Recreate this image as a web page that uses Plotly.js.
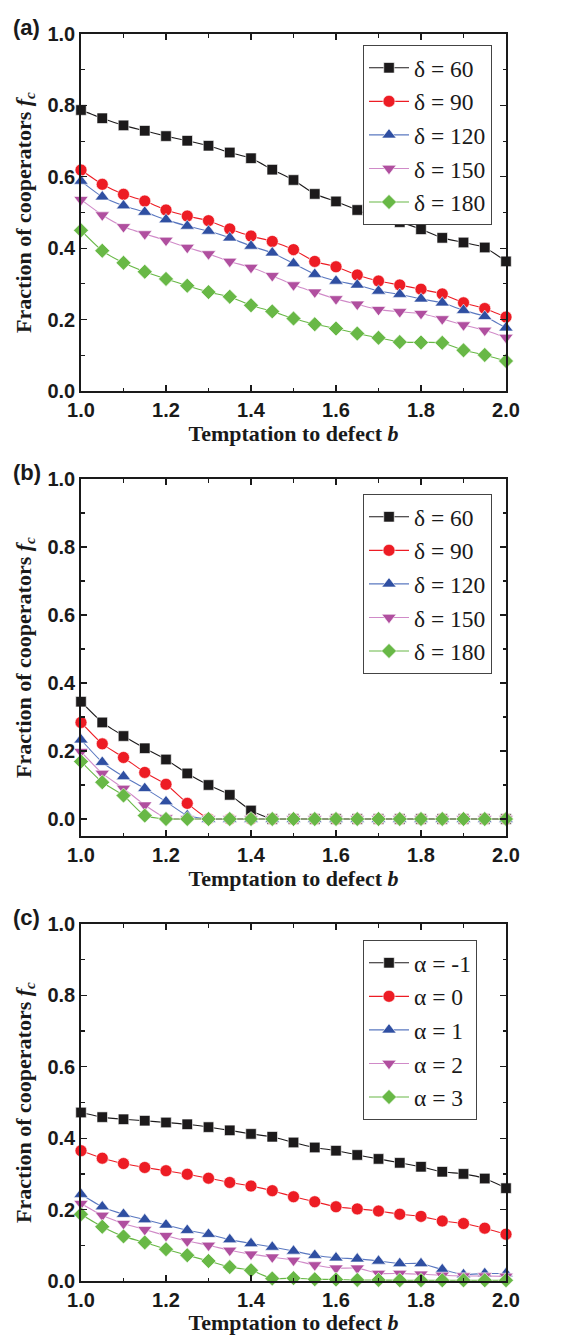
<!DOCTYPE html>
<html>
<head>
<meta charset="utf-8">
<script src="https://cdn.plot.ly/plotly-3.0.1.min.js"></script>
<style>html,body{margin:0;padding:0;background:#fff;}#chart{width:577px;height:1335px;}</style>
</head>
<body>
<div id="chart"></div>
<script>
// Temptation to defect b
const bValues = [1.0,1.05,1.1,1.15,1.2,1.25,1.3,1.35,1.4,1.45,1.5,1.55,1.6,1.65,1.7,1.75,1.8,1.85,1.9,1.95,2.0];

// Panel (a)
const a_d60  = [0.787,0.764,0.744,0.729,0.714,0.701,0.687,0.668,0.652,0.620,0.591,0.552,0.531,0.507,0.483,0.473,0.453,0.429,0.416,0.402,0.363];
const a_d90  = [0.619,0.579,0.551,0.532,0.507,0.490,0.477,0.454,0.434,0.419,0.396,0.363,0.348,0.325,0.308,0.297,0.285,0.272,0.247,0.231,0.207];
const a_d120 = [0.588,0.544,0.519,0.501,0.480,0.462,0.448,0.429,0.406,0.387,0.357,0.327,0.308,0.297,0.280,0.271,0.258,0.247,0.226,0.209,0.177];
const a_d150 = [0.536,0.493,0.460,0.440,0.422,0.402,0.384,0.363,0.346,0.323,0.297,0.277,0.258,0.243,0.228,0.222,0.217,0.202,0.185,0.170,0.150];
const a_d180 = [0.450,0.393,0.359,0.334,0.314,0.295,0.277,0.264,0.240,0.223,0.203,0.187,0.175,0.161,0.149,0.137,0.136,0.135,0.114,0.101,0.084];

// Panel (b)
const b_d60  = [0.345,0.284,0.244,0.208,0.175,0.134,0.100,0.071,0.025,0,0,0,0,0,0,0,0,0,0,0,0];
const b_d90  = [0.284,0.221,0.181,0.137,0.102,0.046,0.001,0,0,0,0,0,0,0,0,0,0,0,0,0,0];
const b_d120 = [0.233,0.167,0.125,0.090,0.051,0.010,0,0,0,0,0,0,0,0,0,0,0,0,0,0,0];
const b_d150 = [0.198,0.134,0.090,0.041,0.003,0,0,0,0,0,0,0,0,0,0,0,0,0,0,0,0];
const b_d180 = [0.169,0.108,0.069,0.010,0,0,0,0,0,0,0,0,0,0,0,0,0,0,0,0,0];

// Panel (c)
const c_am1 = [0.472,0.459,0.453,0.449,0.444,0.439,0.431,0.422,0.412,0.404,0.388,0.374,0.365,0.353,0.342,0.331,0.320,0.306,0.300,0.287,0.260];
const c_a0  = [0.365,0.344,0.329,0.318,0.309,0.299,0.288,0.276,0.266,0.253,0.236,0.222,0.208,0.202,0.196,0.187,0.181,0.168,0.161,0.148,0.131];
const c_a1  = [0.243,0.208,0.187,0.172,0.157,0.142,0.131,0.116,0.105,0.095,0.084,0.072,0.065,0.062,0.056,0.049,0.049,0.032,0.018,0.021,0.021];
const c_a2  = [0.217,0.184,0.161,0.144,0.127,0.112,0.100,0.086,0.075,0.067,0.058,0.045,0.036,0.036,0.021,0.021,0.019,0.016,0.014,0.014,0.013];
const c_a3  = [0.187,0.152,0.125,0.108,0.089,0.072,0.056,0.039,0.030,0.007,0.008,0.005,0.004,0.003,0.003,0.002,0.002,0.002,0.002,0.002,0.002];

const deltaLabels = ['δ = 60','δ = 90','δ = 120','δ = 150','δ = 180'];
const alphaLabels = ['α = -1','α = 0','α = 1','α = 2','α = 3'];
const panelLabels = ['(a)','(b)','(c)'];

const markerColors = ['#1c1a1b','#ed1c24','#2f4fa2','#b04f9f','#68b846'];
const lineColors   = ['#1c1a1b','#ed1c24','#5a78c0','#d08ac8','#68b846'];
const symbols = ['square','circle','triangle-up','triangle-down','diamond'];
const sizes = [10.5,12,12.5,12.5,11.5];

const panels = [
  {series:[a_d60,a_d90,a_d120,a_d150,a_d180], labels:deltaLabels},
  {series:[b_d60,b_d90,b_d120,b_d150,b_d180], labels:deltaLabels},
  {series:[c_am1,c_a0,c_a1,c_a2,c_a3], labels:alphaLabels}
];

const W = 577, H = 1335;
const plotTops = [34, 479, 924];
const plotBots = [391, 836, 1281];
const yRanges = [[0,1],[-0.05,1],[0,1]];
const legendTops = [45, 494, 940];
const xDomain = [81/W, 506/W];

const traces = [];
const layout = {
  width: W, height: H,
  margin: {l:0, r:0, t:0, b:0},
  paper_bgcolor: '#fff', plot_bgcolor: '#fff',
  showlegend: true,
  annotations: []
};

const tickFont = {family:'Liberation Sans Narrow, Liberation Sans, Arial, sans-serif', size:20, color:'#1a1a1a', weight:'bold'};
const titleFont = {family:'Liberation Serif, Times New Roman, serif', size:22, color:'#1a1a1a', weight:'bold'};
const legendFont = {family:'Liberation Serif, Times New Roman, serif', size:23.5, color:'#1a1a1a'};

panels.forEach((p, pi) => {
  const sfx = pi === 0 ? '' : String(pi+1);
  const legName = pi === 0 ? 'legend' : 'legend' + (pi+1);
  p.series.forEach((ys, si) => {
    traces.push({
      x: bValues, y: ys,
      xaxis: 'x' + sfx, yaxis: 'y' + sfx,
      type: 'scatter', mode: 'lines+markers',
      name: p.labels[si],
      legend: legName,
      legendgroup: 'p' + pi + 's' + si,
      line: {color: lineColors[si], width: 1.1, shape: 'spline', smoothing: 0.5},
      marker: {symbol: symbols[si], size: sizes[si], color: markerColors[si], line: {color:'#ffffff', width:0.6}},
      cliponaxis: false
    });
  });
  const yTop = 1 - plotTops[pi]/H, yBot = 1 - plotBots[pi]/H;
  layout['xaxis' + sfx] = {
    domain: xDomain, anchor: 'y' + sfx, range: [1, 2],
    tick0: 1, dtick: 0.2, tickformat: '.1f',
    ticks: 'inside', ticklen: 6, tickwidth: 1.3, tickcolor: '#1a1a1a',
    minor: {dtick: 0.1, ticks: 'inside', ticklen: 3.5, tickwidth: 1.2, tickcolor:'#1a1a1a'},
    showline: true, linecolor: '#1a1a1a', linewidth: 1.8, mirror: 'allticks',
    showgrid: false, zeroline: false,
    tickfont: tickFont,
    title: {text: 'Temptation to defect <i>b</i>', font: titleFont, standoff: 4}
  };
  layout['yaxis' + sfx] = {
    domain: [yBot, yTop], anchor: 'x' + sfx, range: yRanges[pi],
    tick0: 0, dtick: 0.2, tickformat: '.1f',
    ticks: 'inside', ticklen: 6, tickwidth: 1.3, tickcolor: '#1a1a1a',
    minor: {dtick: 0.1, ticks: 'inside', ticklen: 3.5, tickwidth: 1.2, tickcolor:'#1a1a1a'},
    showline: true, linecolor: '#1a1a1a', linewidth: 1.8, mirror: 'allticks',
    showgrid: false, zeroline: false,
    tickfont: tickFont,
    title: {text: 'Fraction of cooperators <i>f<sub>c</sub></i>', font: titleFont, standoff: 10}
  };
  layout[legName] = {
    x: 363/W, xanchor: 'left',
    y: 1 - legendTops[pi]/H, yanchor: 'top',
    bgcolor: '#ffffff', bordercolor: '#444', borderwidth: 1,
    font: legendFont,
    traceorder: 'grouped', tracegroupgap: 0,
    itemwidth: 40
  };
  layout.annotations.push({
    xref: 'paper', yref: 'paper',
    x: 11/W, y: 1 - (plotTops[pi] - 21)/H,
    xanchor: 'left', yanchor: 'top',
    text: panelLabels[pi], showarrow: false,
    font: {family:'Liberation Sans, Arial, sans-serif', size: 22, color:'#1a1a1a', weight:'bold'}
  });
});

Plotly.newPlot('chart', traces, layout, {staticPlot: true, displayModeBar: false});
</script>
</body>
</html>
